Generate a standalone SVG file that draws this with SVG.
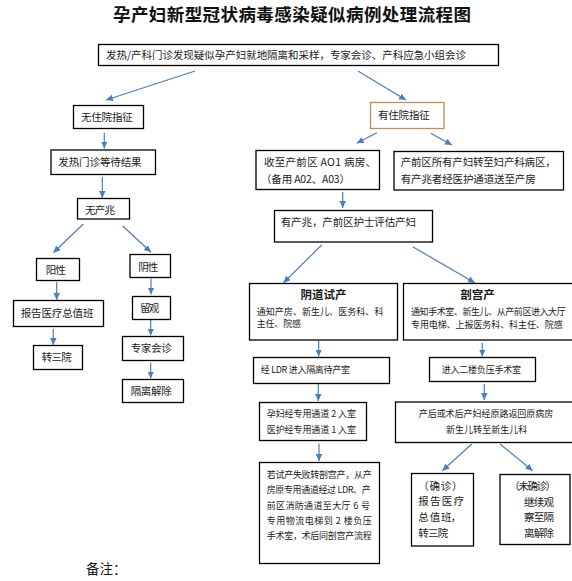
<svg xmlns="http://www.w3.org/2000/svg" width="572" height="581" viewBox="0 0 572 581">
<style>
.box{fill:#fff;stroke:#000;stroke-width:1.3}
.t{font-family:"Noto Sans CJK SC","Noto Sans",sans-serif;font-size:10.5px;fill:#1a1a1a}
.s{font-size:9px}
.h{font-size:11.5px;font-weight:bold;text-anchor:middle}
.title{font-family:"Noto Sans CJK SC","Noto Sans",sans-serif;font-size:17.5px;font-weight:bold;fill:#111}
.conn{stroke:#4a7ebb;stroke-width:1.2;fill:none;marker-end:url(#ah)}
</style>
<defs>
<marker id="ah" markerUnits="userSpaceOnUse" markerWidth="8" markerHeight="7" refX="7" refY="3.25" orient="auto">
<path d="M0,0 L7,3.25 L0,6.5 z" fill="#4a7ebb"/>
</marker>
</defs>
<rect width="572" height="581" fill="#fff"/>
<text class="title" x="113" y="20.5" textLength="358">孕产妇新型冠状病毒感染疑似病例处理流程图</text>

<g id="connectors">
<line class="conn" x1="195" y1="71" x2="106" y2="100"/>
<line class="conn" x1="358" y1="71" x2="406" y2="100"/>
<line class="conn" x1="104.3" y1="132.7" x2="104.3" y2="148.5"/>
<line class="conn" x1="102.3" y1="177" x2="102.3" y2="198"/>
<line class="conn" x1="83.3" y1="224" x2="53.3" y2="252.7"/>
<line class="conn" x1="122.7" y1="226" x2="151" y2="252.3"/>
<line class="conn" x1="56.7" y1="282" x2="56.7" y2="300"/>
<line class="conn" x1="53.3" y1="329" x2="53.3" y2="345"/>
<line class="conn" x1="151" y1="278.5" x2="151" y2="294.5"/>
<line class="conn" x1="150.7" y1="320" x2="150.7" y2="335.5"/>
<line class="conn" x1="150.7" y1="362.5" x2="150.7" y2="378.5"/>
<line class="conn" x1="377" y1="132.7" x2="356.7" y2="143.3"/>
<line class="conn" x1="430.7" y1="133.3" x2="452" y2="145"/>
<line class="conn" x1="342.7" y1="192" x2="342.7" y2="208"/>
<line class="conn" x1="321.7" y1="245" x2="283.3" y2="283"/>
<line class="conn" x1="412.7" y1="246.7" x2="475" y2="283"/>
<line class="conn" x1="318.7" y1="341" x2="318.7" y2="356.5"/>
<line class="conn" x1="482.3" y1="343" x2="482.3" y2="356.5"/>
<line class="conn" x1="318.3" y1="384" x2="318.3" y2="401"/>
<line class="conn" x1="319" y1="443.5" x2="319" y2="461"/>
<line class="conn" x1="484.3" y1="384" x2="484.3" y2="400"/>
<line class="conn" x1="471.7" y1="444" x2="442.3" y2="470.7"/>
<line class="conn" x1="500" y1="444" x2="532.7" y2="470.7"/>
</g>

<g id="n-top"><rect class="box" x="98.5" y="44.5" width="400" height="21"/>
<text class="t" x="106" y="59.3" textLength="360">发热/产科门诊发现疑似孕产妇就地隔离和采样，专家会诊、产科应急小组会诊</text></g>

<g id="n-no-adm"><rect class="box" x="73.5" y="105.5" width="70" height="23"/>
<text class="t" x="81" y="121.3" textLength="51.7">无住院指征</text></g>

<g id="n-adm"><rect class="box" x="370.5" y="102.5" width="73.5" height="26" style="stroke:#c08a5c"/>
<text class="t" x="378" y="119" textLength="51.7">有住院指征</text></g>

<g id="n-wait"><rect class="box" x="51" y="150" width="104.5" height="24.5"/>
<text class="t" x="58.3" y="166.3" textLength="83.3">发热门诊等待结果</text></g>

<g id="n-nolabor"><rect class="box" x="77.5" y="198.5" width="52" height="20.5"/>
<text class="t" x="85" y="214" textLength="30">无产兆</text></g>

<g id="n-pos"><rect class="box" x="36.5" y="258.5" width="43" height="22"/>
<text class="t" x="45.7" y="274" textLength="20">阳性</text></g>

<g id="n-neg"><rect class="box" x="130" y="254.5" width="40.5" height="23"/>
<text class="t" x="138.3" y="271.3" textLength="20">阴性</text></g>

<g id="n-report"><rect class="box" x="13.5" y="300.5" width="90" height="26"/>
<text class="t" x="20.7" y="316.7" textLength="72.7">报告医疗总值班</text></g>

<g id="n-transfer"><rect class="box" x="33.5" y="345.5" width="49" height="24"/>
<text class="t" x="41.7" y="361.3" textLength="30">转三院</text></g>

<g id="n-observe"><rect class="box" x="132.5" y="296.5" width="38" height="23"/>
<text class="t" x="140" y="312" textLength="19.3">留观</text></g>

<g id="n-consult"><rect class="box" x="122.5" y="336.5" width="61" height="24"/>
<text class="t" x="130.7" y="352.3" textLength="41">专家会诊</text></g>

<g id="n-release"><rect class="box" x="122.5" y="379.5" width="61" height="23"/>
<text class="t" x="130.7" y="395" textLength="41">隔离解除</text></g>

<g id="n-ward"><rect class="box" x="256" y="150.5" width="123.5" height="39"/>
<text class="t" x="264" y="165.7" textLength="112">收至产前区 AO1 病房、</text>
<text class="t" x="261" y="183.3" textLength="89">（备用 A02、A03）</text></g>

<g id="n-allmove"><rect class="box" x="394" y="151.5" width="169.5" height="38.5"/>
<text class="t" x="400.7" y="165.7" textLength="155">产前区所有产妇转至妇产科病区，</text>
<text class="t" x="400.7" y="183.3" textLength="135">有产兆者经医护通道送至产房</text></g>

<g id="n-labor"><rect class="box" x="274.5" y="210.5" width="158" height="31.5"/>
<text class="t" x="280.7" y="225.7" textLength="135.3">有产兆，产前区护士评估产妇</text></g>

<g id="n-vaginal"><rect class="box" x="249.5" y="283.5" width="148" height="56.5"/>
<text class="t h" x="323.5" y="299.4">阴道试产</text>
<text class="t s" x="256.7" y="315.1" textLength="126.7">通知产房、新生儿、医务科、科</text>
<text class="t s" x="256.7" y="327.4" textLength="44.3">主任、院感</text></g>

<g id="n-cesarean"><rect class="box" x="403.5" y="283.5" width="172" height="56.5"/>
<text class="t h" x="477.5" y="299.4">剖宫产</text>
<text class="t s" x="411" y="315.1" textLength="154.7">通知手术室、新生儿、从产前区进入大厅</text>
<text class="t s" x="411" y="328.4" textLength="151.7">专用电梯、上报医务科、科主任、院感</text></g>

<g id="n-ldr"><rect class="box" x="253.5" y="357.5" width="136" height="26"/>
<text class="t s" x="260.7" y="373.4" textLength="89.3">经 LDR 进入隔离待产室</text></g>

<g id="n-or"><rect class="box" x="429.5" y="357.5" width="106" height="24"/>
<text class="t s" x="441.7" y="373.4" textLength="79.3">进入二楼负压手术室</text></g>

<g id="n-channel"><rect class="box" x="259.5" y="402.5" width="107" height="38"/>
<text class="t s" x="266.7" y="417.4" textLength="89.3">孕妇经专用通道 2 入室</text>
<text class="t s" x="266.7" y="433.4" textLength="89.3">医护经专用通道 1 入室</text></g>

<g id="n-fail"><rect class="box" x="259.5" y="462.5" width="120" height="101"/>
<text class="t s" x="266.7" y="478.4" textLength="105">若试产失败转剖宫产，从产</text>
<text class="t s" x="266.7" y="493.4" textLength="104">房原专用通道经过 LDR、产</text>
<text class="t s" x="266.7" y="509.1" textLength="103.3">前区消防通道至大厅 6 号</text>
<text class="t s" x="266.7" y="524.1" textLength="105">专用物流电梯到 2 楼负压</text>
<text class="t s" x="266.7" y="539.4" textLength="105">手术室，术后同剖宫产流程</text></g>

<g id="n-return"><rect class="box" x="395.5" y="402" width="180" height="40.5"/>
<text class="t s" x="418.7" y="416.7" textLength="134.6">产后或术后产妇经原路返回原病房</text>
<text class="t s" x="446" y="433.4" textLength="81.3">新生儿转至新生儿科</text></g>

<g id="n-confirmed"><rect class="box" x="411.5" y="473.5" width="62" height="72.5"/>
<text class="t" x="418.3" y="490" textLength="44.3">（确诊）</text>
<text class="t" x="418.3" y="504.7" textLength="45.7">报 告 医 疗</text>
<text class="t" x="418.3" y="520.7" textLength="43">总 值 班，</text>
<text class="t" x="418.3" y="536.7" textLength="30">转三院</text></g>

<g id="n-unconfirmed"><rect class="box" x="500" y="474.5" width="70" height="70"/>
<text class="t" x="509.3" y="490" textLength="46.7">（未确诊）</text>
<text class="t" x="524" y="505.7" textLength="30">继续观</text>
<text class="t" x="524" y="521.3" textLength="30">察至隔</text>
<text class="t" x="524" y="537.3" textLength="30">离解除</text></g>

<text class="t" x="86" y="574" style="font-size:13.5px">备注：</text>
</svg>
